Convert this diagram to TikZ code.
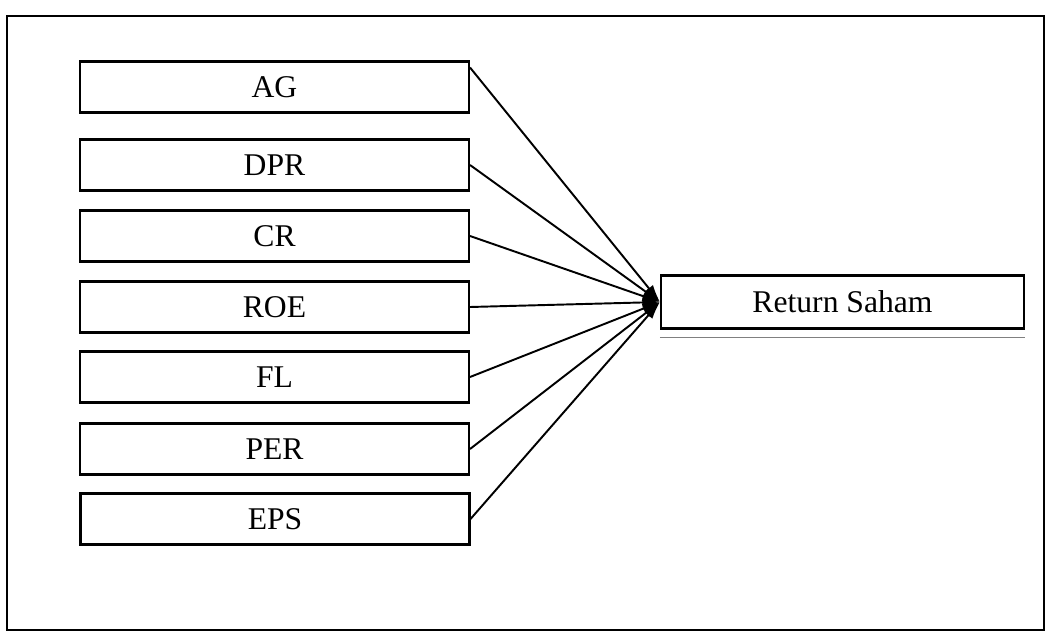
\documentclass[tikz,border=0pt]{standalone}
\usepackage{fontspec}
\setmainfont{Liberation Serif}
\usetikzlibrary{arrows.meta}
\begin{document}
\begin{tikzpicture}[x=0.02cm,y=-0.02cm,
  varbox/.style={draw,line width=1.2pt,minimum width=7.78cm,minimum height=1.02cm,
    inner sep=0pt,font=\fontsize{18}{21}\selectfont},
  link/.style={line width=1.1pt,-{Latex[length=10pt,width=6pt]}}]
  \useasboundingbox (0,0) rectangle (1047,639);
  % outer frame
  \node[draw,line width=1.4pt,minimum width=20.74cm,minimum height=12.28cm,inner sep=0pt]
    (frame) at (525.5,323) {};
  % independent variables
  \node[varbox] (AG)  at (274.5,87)  {AG};
  \node[varbox] (DPR) at (274.5,165) {DPR};
  \node[varbox] (CR)  at (274.5,236) {CR};
  \node[varbox] (ROE) at (274.5,307) {ROE};
  \node[varbox] (FL)  at (274.5,377) {FL};
  \node[varbox] (PER) at (274.5,449) {PER};
  \node[varbox] (EPS) at (275,519)   {EPS};
  % dependent variable
  \node[varbox,minimum width=7.26cm,minimum height=1.06cm] (RS) at (842.5,302) {Return Saham};
  \draw[line width=0.5pt,gray] ([yshift=-0.16cm]RS.south west) -- ([yshift=-0.16cm]RS.south east);
  % influences
  \draw[link] ([yshift=0.39cm]AG.east) -- (RS.west);
  \foreach \v in {DPR,CR,ROE,FL,PER,EPS}
    \draw[link] (\v.east) -- (RS.west);
\end{tikzpicture}
\end{document}
